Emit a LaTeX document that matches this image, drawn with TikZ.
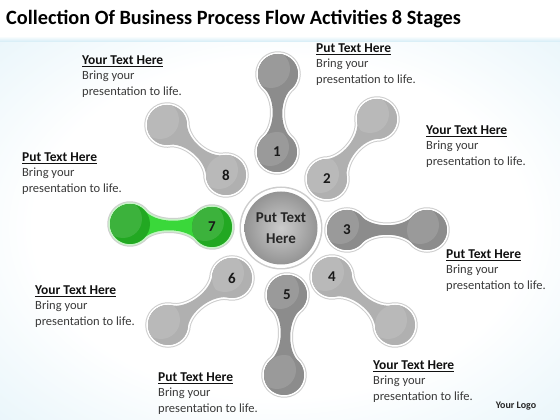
\documentclass[tikz,border=0pt]{standalone}
\usepackage{fontspec}
\setmainfont{Carlito}
\usetikzlibrary{calc}
\definecolor{bgblue}{HTML}{D3ECF6}
\definecolor{bgdeep}{HTML}{BFE3F2}
\definecolor{pdark}{HTML}{8C8C8C}
\definecolor{plight}{HTML}{B0B0B0}
\definecolor{gdark}{HTML}{22A822}
\definecolor{gbright}{HTML}{3AD83A}
\definecolor{ghalo}{HTML}{C8F2C8}
\definecolor{haloedge}{HTML}{CDCDCD}
\definecolor{txtgray}{HTML}{3A3A3A}
\definecolor{headblack}{HTML}{111111}
\pgfdeclareradialshading{bgshade}{\pgfpoint{0bp}{0bp}}{color(0bp)=(white); color(22bp)=(white); color(50bp)=(bgblue); color(72bp)=(bgdeep)}
\tikzset{
  textblock/.style={anchor=north west, inner sep=0pt, align=left,
    font=\fontsize{12.5}{15.5}\selectfont, text=txtgray},
  numlabel/.style={font=\bfseries\fontsize{15}{15}\selectfont, text=black!90, inner sep=0pt},
  titletext/.style={anchor=base west, inner sep=0pt, font=\bfseries\fontsize{20.3}{22}\selectfont, text=black},
  centertext/.style={align=center, inner sep=0pt, font=\bfseries\fontsize{15}{21}\selectfont, text=black!85},
}
\newcommand\dumbbellpath[1]{(48:20) .. controls (24,1.4) and (#1-24,1.4) .. ([shift={(#1,0)}]132:20) arc[start angle=132,end angle=-132,radius=20] .. controls (#1-24,-1.4) and (24,-1.4) .. (-48:20) arc[start angle=-48,end angle=-312,radius=20] -- cycle}
% #1 name, #2 x1, #3 y1, #4 x2, #5 y2, #6 neck colour, #7 circle colour, #8 halo colour, #9 label
\newcommand\petal[9]{%
  \coordinate (#1i) at (#2,#3);
  \coordinate (#1o) at (#4,#5);
  \pgfmathsetmacro\pang{atan2(#5-#3,#4-#2)}%
  \pgfmathsetmacro\plen{veclen(#4-#2,#5-#3)}%
  \begin{scope}[shift={(#1i)}, rotate=\pang]
    \draw[line width=5.5, draw=haloedge] \dumbbellpath{\plen};
    \draw[line width=3.5, draw=#8] \dumbbellpath{\plen};
    \fill[#6] \dumbbellpath{\plen};
  \end{scope}
  \fill[#7] (#1i) circle (20);
  \fill[#7] (#1o) circle (20);
  \begin{scope}
    \clip (#1i) circle (20);
    \fill[#7!88!white] ($(#1i)+(-7,5)$) circle (19);
  \end{scope}
  \begin{scope}
    \clip (#1o) circle (20);
    \fill[#7!88!white] ($(#1o)+(-7,5)$) circle (19);
  \end{scope}
  \node[numlabel] (#1n) at (#1i) {#9};
}
\newcommand\blocktext[1]{\textcolor{headblack}{\fontsize{13.5}{15.5}\selectfont\textbf{\underline{#1}}}\\Bring your\\presentation to life.}
\begin{document}
\begin{tikzpicture}[x=1pt,y=1pt]
\useasboundingbox (0,0) rectangle (560,420);
% background
\shade[shading=bgshade] (0,0) rectangle (560,384);
\fill[white] (0,384) rectangle (560,420);
\shade[top color=white, bottom color=bgblue] (0,378) rectangle (560,384);
% title
\node[titletext] (title) at (6,395) {Collection Of Business Process Flow Activities 8 Stages};
% petals
\petal{p1}{277}{268}{278}{346}{pdark}{pdark}{white}{1}
\petal{p2}{327}{241}{377}{301}{plight}{plight}{white}{2}
\petal{p3}{347}{190}{427}{190}{pdark}{pdark}{white}{3}
\petal{p4}{332}{143}{395}{95}{plight}{plight}{white}{4}
\petal{p5}{287}{125}{284}{45}{pdark}{pdark}{white}{5}
\petal{p6}{232}{142}{168}{95}{plight}{plight}{white}{6}
\petal{p7}{212}{193}{130}{196}{gbright}{gdark}{ghalo}{7}
\petal{p8}{226}{245}{167}{295}{plight}{plight}{white}{8}
% centre
\coordinate (ctr) at (281,192);
\fill[haloedge] (ctr) circle (41.5);
\fill[white] (ctr) circle (40);
\shade[inner color=black!20, outer color=black!42] (ctr) circle (36.5);
\node[centertext] (ctrtext) at (ctr) {Put Text\\Here};
% text blocks
\node[textblock] (ta) at (82,364.5) {\blocktext{Your Text Here}};
\node[textblock] (tb) at (316,376.5) {\blocktext{Put Text Here}};
\node[textblock] (tc) at (426,294.5) {\blocktext{Your Text Here}};
\node[textblock] (td) at (22,267.5) {\blocktext{Put Text Here}};
\node[textblock] (te) at (446,170.5) {\blocktext{Put Text Here}};
\node[textblock] (tf) at (35,134.5) {\blocktext{Your Text Here}};
\node[textblock] (tg) at (373,59.5) {\blocktext{Your Text Here}};
\node[textblock] (th) at (158,47.5) {\blocktext{Put Text Here}};
% logo
\node[font=\bfseries\fontsize{10}{10}\selectfont, text=black!85, inner sep=0pt] (logo) at (516,14) {Your Logo};
\end{tikzpicture}
\end{document}
